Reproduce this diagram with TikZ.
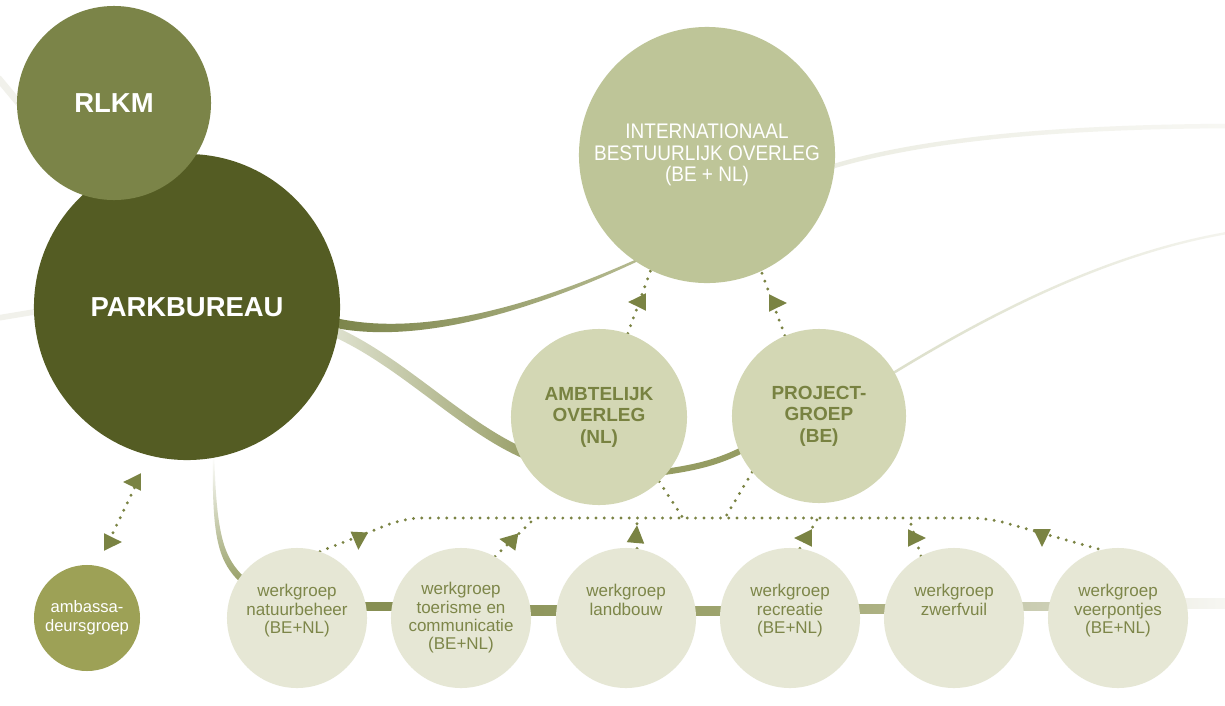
\documentclass[tikz,border=0pt]{standalone}
\usepackage{fontspec}
\setmainfont{Liberation Sans}
\newfontfamily\condfont[FakeStretch=0.9]{Liberation Sans}
\usetikzlibrary{calc}
\pgfdeclarelayer{bg}
\pgfsetlayers{bg,main}
\definecolor{rlkmC}{HTML}{7B8448}
\definecolor{parkC}{HTML}{545C23}
\definecolor{intC}{HTML}{BEC598}
\definecolor{midC}{HTML}{D3D7B4}
\definecolor{wgC}{HTML}{E6E7D5}
\definecolor{ambC}{HTML}{9DA156}
\definecolor{dotC}{HTML}{7A8343}
\definecolor{txtC}{HTML}{788241}
\definecolor{wtxtC}{HTML}{7D8649}
\definecolor{linkC}{HTML}{959C62}
\definecolor{faintC}{HTML}{F1F1EB}
\definecolor{eL}{HTML}{ECEDE3}
\definecolor{eR}{HTML}{F7F7F3}
\definecolor{aL}{HTML}{7C854B}
\definecolor{aR}{HTML}{B5BA90}
\definecolor{bL}{HTML}{DFE2D0}
\definecolor{bR}{HTML}{9AA06A}
\definecolor{dL}{HTML}{DCDFCA}
\definecolor{dR}{HTML}{F4F4EE}
\definecolor{gB}{HTML}{98A068}
\definecolor{s1L}{HTML}{848C50}
\definecolor{s1R}{HTML}{8A9257}
\definecolor{s2L}{HTML}{8D955B}
\definecolor{s2R}{HTML}{939A62}
\definecolor{s3L}{HTML}{979E67}
\definecolor{s3R}{HTML}{A2A873}
\definecolor{s4L}{HTML}{A6AB7A}
\definecolor{s4R}{HTML}{B2B68A}
\definecolor{s5L}{HTML}{C2C5A5}
\definecolor{s5R}{HTML}{D3D5C0}
\definecolor{s6L}{HTML}{E9EADE}
\definecolor{s6R}{HTML}{F7F7F3}
\newcommand{\arrtri}[3]{\fill[dotC] ($(#1,#2)+(#3:11.8)$) -- ($(#1,#2)+(#3+124:10.6)$) -- ($(#1,#2)+(#3-124:10.6)$) -- cycle;}
\begin{document}
\begin{tikzpicture}[x=0.025cm, y=-0.025cm,
  bubble/.style={circle, inner sep=0pt, align=center},
  bigtext/.style={text=white, font=\fontsize{19.5}{22}\selectfont\bfseries},
  midtext/.style={text=txtC, font=\fontsize{13.5}{15.3}\selectfont\bfseries},
  wgbubble/.style={bubble, fill=wgC, minimum size=3.5cm, text=wtxtC, font=\fontsize{12.1}{13}\selectfont},
  dotline/.style={draw=dotC, line width=2.3pt, line cap=round, dash pattern=on 0pt off 5.9pt},
  faint/.style={draw=faintC, line width=5pt},
]
\useasboundingbox (0,0) rectangle (1225,705);

% ---------- nodes ----------
\node[bubble, fill=parkC, minimum size=7.65cm, bigtext] (park) at (187,307) {PARKBUREAU};
\node[bubble, fill=rlkmC, minimum size=4.85cm, bigtext] (rlkm) at (114,103) {RLKM};
\node[bubble, fill=intC, minimum size=6.4cm, text=white, font=\condfont\fontsize{15}{15.3}\selectfont] (int) at (707,155) {INTERNATIONAAL\\BESTUURLIJK OVERLEG\\(BE + NL)};
\node[bubble, fill=midC, minimum size=4.4cm, midtext] (ao) at (599,417) {AMBTELIJK\\OVERLEG\\(NL)};
\node[bubble, fill=midC, minimum size=4.35cm, midtext] (pg) at (819,416) {PROJECT-\\GROEP\\(BE)};
\node[bubble, fill=ambC, minimum size=2.65cm, text=white, font=\fontsize{11.8}{13.5}\selectfont] (amb) at (87,618) {ambassa-\\deursgroep};
\node[wgbubble] (w1) at (297,618) {werkgroep\\natuurbeheer\\(BE+NL)\\\mbox{}};
\node[wgbubble] (w2) at (461,618) {werkgroep\\toerisme en\\communicatie\\(BE+NL)};
\node[wgbubble] (w3) at (626,618) {werkgroep\\landbouw\\\mbox{}\\\mbox{}};
\node[wgbubble] (w4) at (790,618) {werkgroep\\recreatie\\(BE+NL)\\\mbox{}};
\node[wgbubble] (w5) at (954,618) {werkgroep\\zwerfvuil\\\mbox{}\\\mbox{}};
\node[wgbubble] (w6) at (1118,618) {werkgroep\\veerpontjes\\(BE+NL)\\\mbox{}};

\coordinate (fa) at (-2,78);
\coordinate (fb) at (-2,318);
\coordinate (edgeD) at (1227,233);
\coordinate (edgeE) at (1227,126);
\coordinate (edgeBar) at (1227,608);
\coordinate (j0) at (405,518);
\coordinate (j7) at (988,518);
\coordinate (j1) at (683,518);
\coordinate (j2) at (725,518);
\coordinate (jw2) at (535,518);
\coordinate (jw3) at (637,518);
\coordinate (jw4) at (818,518);
\coordinate (jw5) at (909,518);

% ---------- connectors (behind) ----------
\begin{pgfonlayer}{bg}
\fill[white] (0,0) rectangle (1225,705);
% faint lines at left edge
\draw[faint] (fa) -- ($(rlkm.178)+(10,13)$);
\draw[faint, line width=4pt] (fb) -- ($(park.182)+(10,-2)$);
% INT -> right edge
\shade[left color=eL, right color=eR]
  ($(int.-5)+(-4.45,-1.4)$) .. controls (920,137.8) and (1050,124.8) .. ($(edgeE)+(0,-2.25)$)
  -- ($(edgeE)+(0,2.25)$) .. controls (1050,129.2) and (920,142.2) .. ($(int.-5)+(-3.55,3)$) -- cycle;
% PARK -> INT tapered
\shade[left color=aL, right color=aR]
  ($(park.-6)+(-4,-5)$) .. controls (420,337) and (530,307) .. ($(int.236)+(2,-2.5)$)
  -- ($(int.236)+(3.2,-0.45)$) .. controls (530,312) and (420,344) .. ($(park.-6)+(-4,5)$) -- cycle;
% PARK -> AO light band
\shade[left color=bL, right color=bR]
  ($(park.-10)+(-4,-7.5)$) .. controls (402,355.5) and (462,420.5) .. ($(ao.202)+(8,-1.5)$)
  -- ($(ao.202)+(4,7.5)$) .. controls (458,429.5) and (398,364.5) .. ($(park.-10)+(-8,1.5)$) -- cycle;
% AO -> PG
\draw[linkC, line width=4.3pt, shorten <=-3pt, shorten >=-3pt] (ao.-38) .. controls (700,467) and (720,461) .. (pg.204);
% PG -> right edge
\shade[left color=dL, right color=dR]
  ($(pg.30)+(-4.1,0.9)$) .. controls (979.4,318.9) and (1099.4,253.9) .. ($(edgeD)+(0,-1.2)$)
  -- ($(edgeD)+(0,1.2)$) .. controls (1100.6,256.1) and (980.6,321.1) .. ($(pg.30)+(-2.9,3.1)$) -- cycle;
% PARK -> W1
\shade[top color=white, bottom color=gB]
  ($(park.-80)+(-0.6,-3)$) .. controls (211.5,540) and (219,562) .. ($(w1.145)+(1.1,5.1)$)
  -- ($(w1.145)+(5.1,-0.1)$) .. controls (225,558) and (216.5,540) .. ($(park.-80)+(0.6,-3)$) -- cycle;
% bottom bar
\shade[left color=s1L, right color=s1R] ($(w1)+(0,-16)$) rectangle ($(w2)+(0,-8)$);
\shade[left color=s2L, right color=s2R] ($(w2)+(0,-13)$) rectangle ($(w3)+(0,-3)$);
\shade[left color=s3L, right color=s3R] ($(w3)+(0,-12)$) rectangle ($(w4)+(0,-3)$);
\shade[left color=s4L, right color=s4R] ($(w4)+(0,-14)$) rectangle ($(w5)+(0,-5)$);
\shade[left color=s5L, right color=s5R] ($(w5)+(0,-16)$) rectangle ($(w6)+(0,-8)$);
\shade[left color=s6L, right color=s6R] ($(w6)+(0,-20)$) rectangle (edgeBar);
% dotted connectors
\draw[dotline, shorten <=0.5cm, shorten >=0.55cm] (amb.79) -- (park.256);
\draw[dotline] (ao.71) -- (int.244);
\draw[dotline] (pg.113) -- (int.295);
\draw[dotline, rounded corners=12pt] (w1.71) -- (j0) -- (j7) -- (w6.104);
\draw[dotline] (ao.313) -- (j1);
\draw[dotline] (pg.220) -- (j2);
\draw[dotline] (w2.61) -- (jw2);
\draw[dotline] (w3.81) -- (jw3);
\draw[dotline] (w4.82) -- (jw4);
\draw[dotline] (w5.118) -- (jw5);
\end{pgfonlayer}

% ---------- arrowheads ----------
\arrtri{135}{482}{180}
\arrtri{110}{542}{0}
\arrtri{640}{302}{180}
\arrtri{775}{303}{0}
\arrtri{359}{538}{93}
\arrtri{511}{541}{190}
\arrtri{636}{537}{275}
\arrtri{806}{538}{180}
\arrtri{914}{538}{0}
\arrtri{1042}{535}{90}
\end{tikzpicture}
\end{document}
